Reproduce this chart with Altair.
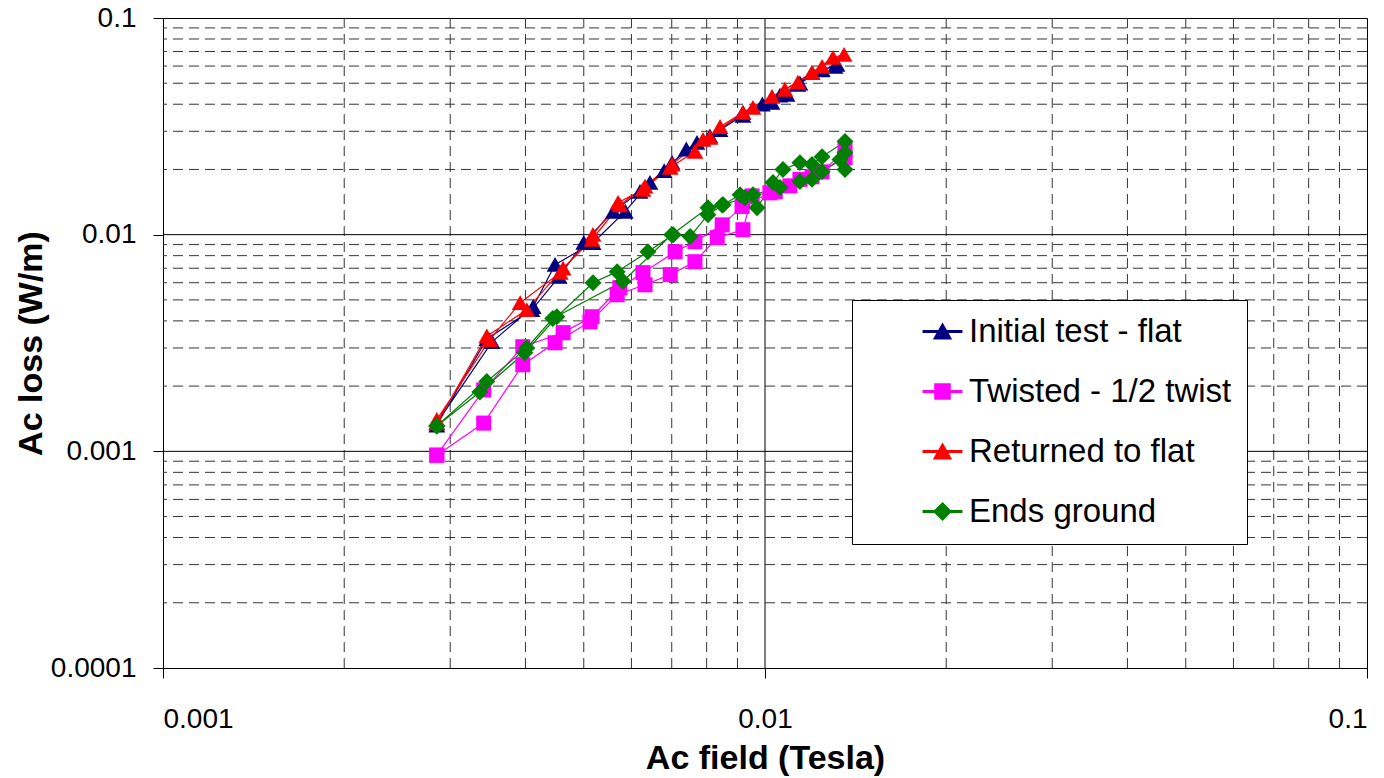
import altair as alt
import pandas as pd

# ---- measured data: Ac loss (W/m) vs Ac field (Tesla); each run swept up then down ----
SERIES = ["Initial test - flat", "Twisted - 1/2 twist", "Returned to flat", "Ends ground"]
COLORS = ["#000080", "#FF00FF", "#FF0000", "#008000"]

flat_x = [0.00285, 0.00352, 0.00412, 0.00448, 0.00518, 0.00586, 0.00644, 0.00701, 0.00771,
          0.00842, 0.00919, 0.01027, 0.01088, 0.01134, 0.01197, 0.01244, 0.01307,
          0.01317, 0.01244, 0.01143, 0.01059, 0.00990, 0.00919, 0.00810, 0.00740,
          0.00680, 0.00620, 0.00560, 0.00500, 0.00455, 0.00410, 0.00345, 0.00285]
flat_y = [0.00135, 0.00320, 0.00465, 0.00727, 0.00918, 0.0128, 0.0174, 0.0215, 0.0266,
          0.0305, 0.0366, 0.0407, 0.0443, 0.0493, 0.0560, 0.0578, 0.0597,
          0.0610, 0.0575, 0.0500, 0.0440, 0.0400, 0.0355, 0.0285, 0.0248,
          0.0197, 0.0158, 0.0128, 0.0092, 0.0064, 0.0045, 0.0033, 0.00132]

twist_x = [0.00285, 0.00341, 0.00396, 0.00448, 0.00512, 0.00568, 0.00632, 0.00696, 0.00765,
           0.00833, 0.00919, 0.00952, 0.01040, 0.01143, 0.01244, 0.01358,
           0.01358, 0.01197, 0.01100, 0.01019, 0.00916, 0.00849, 0.00765, 0.00709,
           0.00627, 0.00574, 0.00516, 0.00462, 0.00396, 0.00341, 0.00285]
twist_y = [0.00096, 0.00135, 0.00251, 0.00317, 0.00396, 0.00528, 0.00587, 0.00654, 0.00750,
           0.00969, 0.01054, 0.0151, 0.0158, 0.0180, 0.0195, 0.0245,
           0.0226, 0.0185, 0.0168, 0.0156, 0.0135, 0.0111, 0.00928, 0.00834,
           0.00668, 0.00569, 0.00418, 0.00353, 0.00304, 0.00192, 0.00096]

back_x = [0.00285, 0.00349, 0.00392, 0.00457, 0.00518, 0.00570, 0.00627, 0.00696, 0.00765,
          0.00810, 0.00842, 0.00919, 0.01027, 0.01134, 0.01244, 0.01353,
          0.01297, 0.01197, 0.01079, 0.00955, 0.00789, 0.00701, 0.00632, 0.00574,
          0.00516, 0.00462, 0.00402, 0.00345, 0.00285]
back_y = [0.00140, 0.00327, 0.00485, 0.00668, 0.0100, 0.01405, 0.01614, 0.0204, 0.0242,
          0.0281, 0.0315, 0.0366, 0.0434, 0.0504, 0.0597, 0.0678,
          0.0657, 0.0560, 0.0468, 0.0386, 0.0275, 0.0211, 0.0167, 0.0137,
          0.0095, 0.0070, 0.0045, 0.0034, 0.00135]

ground_x = [0.00285, 0.00336, 0.00399, 0.00451, 0.00518, 0.00568, 0.00639, 0.00704, 0.00751,
            0.00804, 0.00852, 0.00909, 0.00970, 0.01031, 0.01071, 0.01143, 0.01197, 0.01244,
            0.01358, 0.01358, 0.01358, 0.01332, 0.01244, 0.01197, 0.01143, 0.01059, 0.00955,
            0.00926, 0.00849, 0.00804, 0.00700, 0.00581, 0.00444, 0.00402, 0.00345, 0.00285]
ground_y = [0.00131, 0.00188, 0.00285, 0.00418, 0.0060, 0.00675, 0.00834, 0.0100, 0.0098,
            0.01237, 0.01375, 0.0153, 0.0133, 0.0174, 0.0200, 0.0215, 0.0211, 0.0229,
            0.0269, 0.0239, 0.0200, 0.0222, 0.0195, 0.0180, 0.0176, 0.0165, 0.0153,
            0.0148, 0.0137, 0.0133, 0.0100, 0.0061, 0.0041, 0.0030, 0.0021, 0.00131]

# grid line positions (decades solid, intermediate values dashed)
x_major = [0.01]
x_minor = [m * d for d in (0.001, 0.01) for m in range(2, 10)]
y_major = [0.001, 0.01]
y_minor = [m * d for d in (0.0001, 0.001, 0.01) for m in range(2, 10)]

# marker outlines (unit symbol space)
TRI = "M0,-0.95L1.05,0.9L-1.05,0.9Z"
SQR = "M-0.94,-0.94H0.94V0.94H-0.94Z"
DIA = "M0,-1.06L1.06,0L0,1.06L-1.06,0Z"
MARKERS = [TRI, SQR, TRI, DIA]
# legend swatches: a short connecting line drawn through each marker
BAR = "M-2.4,-0.08H2.4V0.08H-2.4Z"
SWATCHES = [BAR + m for m in MARKERS]

rows = []
for name, xs, ys in zip(SERIES, [flat_x, twist_x, back_x, ground_x],
                        [flat_y, twist_y, back_y, ground_y]):
    for i, (xv, yv) in enumerate(zip(xs, ys)):
        rows.append({"series": name, "seq": i, "field": xv, "loss": yv})
df = pd.DataFrame(rows)

FONT = "Liberation Sans"
xscale = alt.Scale(type="log", domain=[0.001, 0.1], nice=False)
yscale = alt.Scale(type="log", domain=[0.0001, 0.1], nice=False)

xaxis = alt.Axis(values=[0.001, 0.01, 0.1], format=".3~f", title="Ac field (Tesla)",
                 tickSize=10, labelPadding=27, titlePadding=8)
yaxis = alt.Axis(values=[0.0001, 0.001, 0.01, 0.1], format=".4~f", title="Ac loss (W/m)",
                 tickSize=10, labelPadding=17, titlePadding=2)

grid_df = pd.DataFrame(
    [{"v": v, "kind": "minor"} for v in x_minor] + [{"v": v, "kind": "major"} for v in x_major]
)
grid_dfy = pd.DataFrame(
    [{"v": v, "kind": "minor"} for v in y_minor] + [{"v": v, "kind": "major"} for v in y_major]
)

dash = alt.condition(alt.datum.kind == "minor", alt.value([10, 6]), alt.value([1, 0]))
gcol = alt.condition(alt.datum.kind == "minor", alt.value("#333333"), alt.value("#000000"))

vgrid = alt.Chart(grid_df).mark_rule(strokeWidth=1).encode(
    x=alt.X("v:Q", scale=xscale, axis=xaxis), strokeDash=dash, color=gcol)
hgrid = alt.Chart(grid_dfy).mark_rule(strokeWidth=1).encode(
    y=alt.Y("v:Q", scale=yscale, axis=yaxis), strokeDash=dash, color=gcol)

base = alt.Chart(df)
xenc = alt.X("field:Q", scale=xscale, axis=xaxis)
yenc = alt.Y("loss:Q", scale=yscale, axis=yaxis)
cscale = alt.Scale(domain=SERIES, range=COLORS)

legend = alt.Legend(
    title=None, orient="none", legendX=689, legendY=282,
    fillColor="white", strokeColor="black", padding=15, cornerRadius=0,
    labelFont=FONT, labelFontSize=33, labelColor="black", labelLimit=500,
    labelOffset=10, symbolOffset=59, rowPadding=26, symbolSize=256,
    symbolOpacity=1,
)
color = alt.Color("series:N", scale=cscale, sort=SERIES, legend=legend)

lines = base.mark_line(strokeWidth=1.2).encode(
    x=xenc, y=yenc, color=color, detail="series:N", order="seq:Q",
)

# one marker layer per series so later runs sit on top of earlier ones
point_layers = [
    base.transform_filter(alt.datum.series == name)
    .mark_point(filled=True, size=256, opacity=1, shape=marker)
    .encode(x=xenc, y=yenc, color=color)
    for name, marker in zip(SERIES, MARKERS)
]

# invisible copy of the markers that only carries the legend swatch shapes
key = base.mark_point(filled=True, size=256, opacity=0).encode(
    x=xenc, y=yenc, color=color,
    shape=alt.Shape("series:N", scale=alt.Scale(domain=SERIES, range=SWATCHES),
                    sort=SERIES, legend=legend),
)

chart = alt.layer(vgrid, hgrid, lines, *point_layers, key).properties(
    width=1204, height=650,
    autosize=alt.AutoSizeParams(type="none"),
    padding={"left": 163, "top": 18, "right": 17, "bottom": 110},
    background="white",
).configure_view(stroke="black", strokeWidth=1).configure_axis(
    labelFont=FONT, labelFontSize=28, labelColor="black",
    titleFont=FONT, titleFontSize=34, titleFontWeight="bold", titleColor="black",
    domainColor="black", tickColor="black", grid=False,
)

chart.save("out.html", embed_options={"renderer": "svg", "actions": False})
